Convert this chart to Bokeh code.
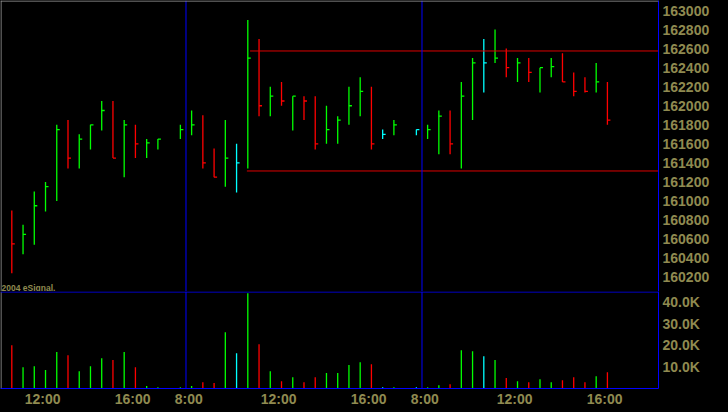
import numpy as np
from bokeh.plotting import figure
from bokeh.layouts import column
from bokeh.models import Range1d, FixedTicker, Span, Label, ColumnDataSource, GlobalInlineStyleSheet
from bokeh.embed import file_html
from bokeh.resources import INLINE

# ---------------- data (30-minute bars, three sessions) ----------------
slots = list(range(54))
highs = [160900, 160750, 161100, 161200, 161800, 161850, 161700, 161800, 162050, 162050,
         161850, 161800, 161650, 161650, None,
         161800, 161950, 161900, 161550, 161850, 161600, 162900,
         162700, 162200, 162250, 162100, 162100, 162100, 162000, 161890, 162200, 162300,
         162200, 161750, 161850, None,
         161750, 161800, 161950, 161950, 162250, 162500, 162700, 162800, 162600, 162500,
         162500, 162400, 162500, 162550, 162350, 162300, 162450, 162250]
lows = [160240, 160440, 160540, 160890, 161000, 161340, 161340, 161540, 161740, 161450,
        161250, 161450, 161450, 161540, None,
        161650, 161690, 161340, 161250, 161150, 161090, 161340,
        161890, 161890, 162000, 161740, 161850, 161540, 161600, 161600, 161800, 161890,
        161540, 161650, 161690, None,
        161690, 161650, 161490, 161490, 161340, 161850, 162140, 162450, 162300, 162250,
        162250, 162140, 162300, 162250, 162100, 162140, 162140, 161800]
closes = [160550, 160650, 160950, 161150, 161750, 161450, 161650, 161800, 161950, 161450,
          161800, 161600, 161610, 161650, None,
          161750, 161800, 161400, 161250, 161450, 161400, 162500,
          162000, 162100, 162050, 162100, 162050, 161600, 161750, 161850, 162000, 162150,
          161600, 161700, 161800, None,
          161750, 161750, 161890, 161600, 162100, 162450, 162450, 162500, 162400, 162450,
          162350, 162400, 162410, 162250, 162150, 162150, 162250, 161850]
direction = ["down", "up", "up", "up", "up", "down", "up", "up", "up", "down",
             "up", "down", "up", "up", "up",
             "up", "up", "down", "down", "up", "even", "up",
             "down", "up", "down", "up", "down", "down", "up", "up", "up", "up",
             "down", "even", "up", "up",
             "even", "up", "up", "down", "up", "up", "even", "up", "down", "up",
             "down", "up", "up", "down", "down", "down", "up", "down"]
volumes = [20000, 9800, 10300, 8500, 16800, 15400, 8000, 10300, 14000, 13100,
           16800, 9800, 1100, 600, None,
           600, 1100, 2900, 2500, 26000, 16300, 44000,
           20400, 8000, 3400, 5200, 2900, 5200, 7100, 7100, 10800, 12100,
           11200, 600, 600, None,
           600, 600, 1500, 2000, 17700, 17200, 14900, 13100, 4800, 3400,
           2900, 4300, 2900, 3800, 5200, 2900, 5700, 7500]

price_ticks = list(range(160200, 163001, 200))
price_tick_labels = [str(t) for t in price_ticks]
vol_ticks = [10000, 20000, 30000, 40000]
vol_tick_labels = ["10.0K", "20.0K", "30.0K", "40.0K"]
time_tick_slots = [3, 11, 16, 24, 32, 37, 45, 53]
time_tick_labels = ["12:00", "16:00", "8:00", "12:00", "16:00", "8:00", "12:00", "16:00"]
session_breaks = [15.5, 36.5]
level_prices = [162575, 161315]
level_start_slots = [21.2, 20.92]
copyright_text = "2004 eSignal."

# ---------------- styling ----------------
BG = "#000000"
BLUE = "#0000ff"
GRAY = "#a0a0a0"
OLIVE = "#8f8a50"
LEVEL_RED = "#dd0000"
dir_colors = {"up": "#00ff00", "down": "#ff0000", "even": "#00ffff"}
FONT = "Liberation Sans"
BAR_W = 1.3

FRAME_W = 658
PRICE_H = 291
VOL_H = 97
PX_PER_SLOT = 11.238

valid = [i for i in slots if highs[i] is not None]
src = ColumnDataSource(dict(
    x=[slots[i] for i in valid],
    high=[highs[i] for i in valid],
    low=[lows[i] for i in valid],
    close=[closes[i] for i in valid],
    vol=[volumes[i] for i in valid],
    color=[dir_colors[direction[i]] for i in valid],
))

x_start = -1.006
x_range = Range1d(x_start, x_start + FRAME_W / PX_PER_SLOT)
label_shift = 0.25  # tick labels are left-aligned slightly left of their bar
half_px_x = 0.5 / PX_PER_SLOT


def style_common(p):
    p.background_fill_color = BG
    p.border_fill_color = BG
    p.outline_line_color = None
    p.grid.visible = False
    for ax in p.yaxis:
        ax.axis_line_color = BLUE
        ax.axis_line_width = 1
        ax.major_tick_line_color = None
        ax.minor_tick_line_color = None
        ax.major_tick_out = 0
        ax.major_tick_in = 0
        ax.minor_tick_out = 0
        ax.major_label_standoff = 4
        ax.major_label_text_color = OLIVE
        ax.major_label_text_font = FONT
        ax.major_label_text_font_style = "bold"
        ax.major_label_text_font_size = "14px"
    for b in session_breaks:
        p.add_layout(Span(location=b, dimension="height", line_color=BLUE, line_width=1))
    p.add_layout(Span(location=x_range.start + half_px_x, dimension="height",
                      line_color=GRAY, line_width=1))


# ---------------- price panel ----------------
p_top, p_bot = 163105.0, 160049.6
p1 = figure(frame_width=FRAME_W, frame_height=PRICE_H, x_range=x_range,
            y_range=Range1d(p_bot, p_top),
            y_axis_location="right", x_axis_location=None,
            output_backend="svg", toolbar_location=None,
            min_border_left=0, min_border_top=0, min_border_bottom=0, min_border_right=70)
style_common(p1)
p1.yaxis.ticker = FixedTicker(ticks=price_ticks)
p1.yaxis.major_label_overrides = dict(zip(price_ticks, price_tick_labels))
p1.add_layout(Span(location=p_top - 0.5 * (p_top - p_bot) / PRICE_H, dimension="width",
                   line_color=GRAY, line_width=1))

p1.segment(x0="x", y0="low", x1="x", y1="high", line_color="color", line_width=BAR_W, source=src)
p1.ray(x="x", y="close", length=3, angle=0, length_units="screen",
       line_color="color", line_width=BAR_W, source=src)
p1.segment(x0=level_start_slots, y0=level_prices,
           x1=[x_range.end] * len(level_prices), y1=level_prices,
           line_color=LEVEL_RED, line_width=1)
p1.add_layout(Label(x=1, y=4, x_units="screen", y_units="screen", text=copyright_text,
                    text_color=OLIVE, text_font=FONT, text_font_size="8.5px",
                    text_font_style="bold", text_baseline="alphabetic"))

# ---------------- volume panel ----------------
vol_top = 44770
p2 = figure(frame_width=FRAME_W, frame_height=VOL_H, x_range=x_range,
            y_range=Range1d(0, vol_top),
            y_axis_location="right", x_axis_location="below",
            output_backend="svg", toolbar_location=None,
            min_border_left=0, min_border_top=0, min_border_bottom=24, min_border_right=70)
style_common(p2)
p2.yaxis.ticker = FixedTicker(ticks=vol_ticks)
p2.yaxis.major_label_overrides = dict(zip(vol_ticks, vol_tick_labels))

tick_pos = [s - label_shift for s in time_tick_slots]
xa = p2.xaxis[0]
xa.ticker = FixedTicker(ticks=tick_pos)
xa.major_label_overrides = dict(zip(tick_pos, time_tick_labels))
xa.axis_line_color = BLUE
xa.major_tick_line_color = None
xa.minor_tick_line_color = None
xa.major_tick_out = 0
xa.major_tick_in = 0
xa.minor_tick_out = 0
xa.major_label_standoff = 2
xa.major_label_text_align = "left"
xa.major_label_text_color = OLIVE
xa.major_label_text_font = FONT
xa.major_label_text_font_style = "bold"
xa.major_label_text_font_size = "14px"

p2.add_layout(Span(location=vol_top - 0.5 * vol_top / VOL_H, dimension="width",
                   line_color=BLUE, line_width=1))
p2.segment(x0="x", y0=0, x1="x", y1="vol", line_color="color", line_width=BAR_W, source=src)

layout = column(p1, p2, spacing=0,
                stylesheets=[GlobalInlineStyleSheet(css="body { background-color: #000000; }")])

open("out.html", "w").write(file_html(layout, INLINE))
